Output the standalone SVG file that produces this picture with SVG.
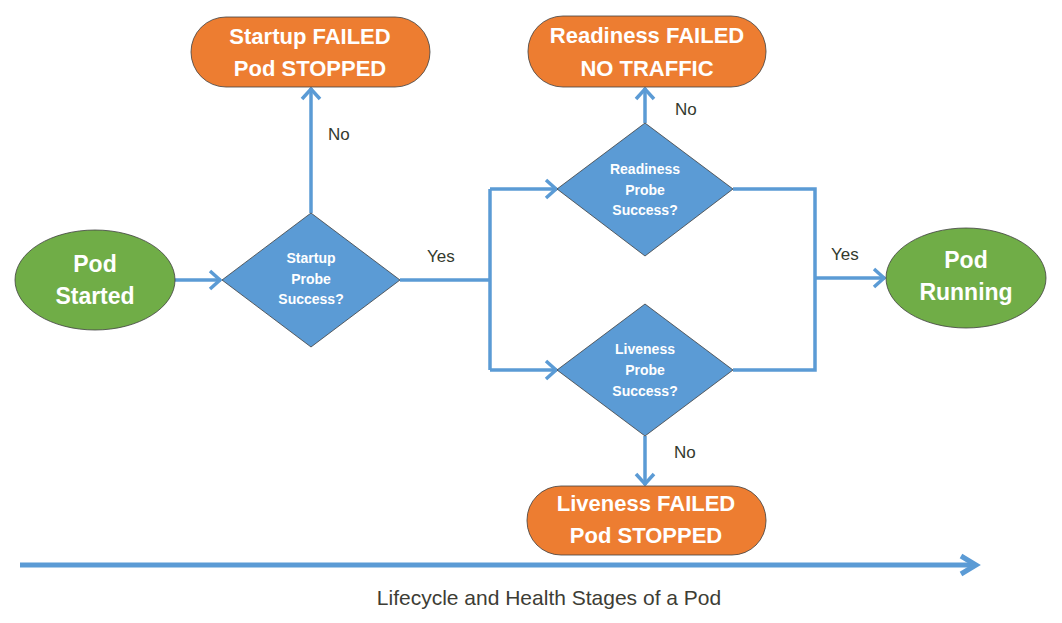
<svg xmlns="http://www.w3.org/2000/svg" width="1062" height="623" viewBox="0 0 1062 623">
<style>
.bg{fill:#ffffff}
.green{fill:#70AD47;stroke:#3f3f3f;stroke-width:0.8}
.orange{fill:#ED7D31;stroke:#3f3f3f;stroke-width:0.8}
.blue{fill:#5B9BD5;stroke:#3f3f3f;stroke-width:0.8}
.t{font-family:"Liberation Sans",Arial,sans-serif;font-weight:bold;fill:#ffffff;text-anchor:middle}
.big{font-size:23px}
.box{font-size:22px}
.dia{font-size:14px}
.lbl{font-family:"Liberation Sans",Arial,sans-serif;font-size:17px;fill:#333a2e}
.title{font-family:"Liberation Sans",Arial,sans-serif;font-size:21px;fill:#3d3d35;text-anchor:middle}
.c{fill:none;stroke:#5B9BD5;stroke-width:3.5}
</style>
<defs>
<marker id="ah" markerUnits="userSpaceOnUse" markerWidth="16" markerHeight="22" viewBox="0 0 16 22" refX="14" refY="11" orient="auto">
<path d="M3,2 L13,11 L3,20" fill="none" stroke="#5B9BD5" stroke-width="3.5" stroke-linejoin="miter"/>
</marker>
</defs>
<rect class="bg" x="0" y="0" width="1062" height="623"/>

<g id="connectors">
<line class="c" x1="175" y1="280" x2="221" y2="280" marker-end="url(#ah)"/>
<line class="c" x1="311" y1="213" x2="311" y2="88" marker-end="url(#ah)"/>
<polyline class="c" points="400,280 490,280"/>
<line class="c" x1="490" y1="189" x2="490" y2="370"/>
<polyline class="c" points="490,189 557,189" marker-end="url(#ah)"/>
<polyline class="c" points="490,370 557,370" marker-end="url(#ah)"/>
<polyline class="c" points="733,189 815,189 815,370 733,370"/>
<line class="c" x1="815" y1="278" x2="885" y2="278" marker-end="url(#ah)"/>
<line class="c" x1="645" y1="123" x2="645" y2="88" marker-end="url(#ah)"/>
<line class="c" x1="645" y1="436" x2="645" y2="485" marker-end="url(#ah)"/>
<text class="lbl" x="328" y="140">No</text>
<text class="lbl" x="427" y="262">Yes</text>
<text class="lbl" x="675" y="115">No</text>
<text class="lbl" x="674" y="458">No</text>
<text class="lbl" x="831" y="260">Yes</text>
</g>

<g id="pod-started">
<ellipse class="green" cx="95" cy="280" rx="80" ry="50"/>
<text class="t big" x="95" y="272">Pod</text>
<text class="t big" x="95" y="304">Started</text>
</g>

<g id="startup-probe">
<polygon class="blue" points="311,213 400,280 311,347 222,280"/>
<text class="t dia" x="311" y="263">Startup</text>
<text class="t dia" x="311" y="284">Probe</text>
<text class="t dia" x="311" y="304">Success?</text>
</g>

<g id="startup-failed">
<rect class="orange" x="191" y="17" width="239" height="70" rx="35" ry="35"/>
<text class="t box" x="310" y="44">Startup FAILED</text>
<text class="t box" x="310" y="76">Pod STOPPED</text>
</g>

<g id="readiness-probe">
<polygon class="blue" points="645,123 733,189 645,256 557,189"/>
<text class="t dia" x="645" y="174">Readiness</text>
<text class="t dia" x="645" y="195">Probe</text>
<text class="t dia" x="645" y="215">Success?</text>
</g>

<g id="readiness-failed">
<rect class="orange" x="528" y="16" width="238" height="71" rx="35" ry="35"/>
<text class="t box" x="647" y="43">Readiness FAILED</text>
<text class="t box" x="647" y="76">NO TRAFFIC</text>
</g>

<g id="liveness-probe">
<polygon class="blue" points="645,304 733,370 645,436 557,370"/>
<text class="t dia" x="645" y="354">Liveness</text>
<text class="t dia" x="645" y="375">Probe</text>
<text class="t dia" x="645" y="396">Success?</text>
</g>

<g id="liveness-failed">
<rect class="orange" x="527" y="486" width="239" height="69" rx="34" ry="34"/>
<text class="t box" x="646" y="511">Liveness FAILED</text>
<text class="t box" x="646" y="543">Pod STOPPED</text>
</g>

<g id="pod-running">
<ellipse class="green" cx="966" cy="278" rx="80" ry="50"/>
<text class="t big" x="966" y="268">Pod</text>
<text class="t big" x="966" y="300">Running</text>
</g>

<g id="timeline">
<line x1="20" y1="565" x2="975" y2="565" stroke="#5B9BD5" stroke-width="5"/>
<path d="M961,556 L976,565 L961,574" fill="none" stroke="#5B9BD5" stroke-width="5"/>
<text class="title" x="549" y="605">Lifecycle and Health Stages of a Pod</text>
</g>
</svg>
